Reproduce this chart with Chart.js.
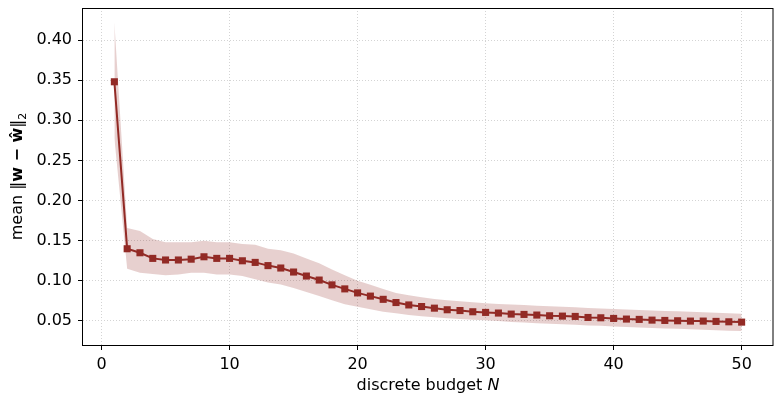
<!DOCTYPE html>
<html>
<head>
<meta charset="utf-8">
<script src="https://cdn.jsdelivr.net/npm/chart.js@4.4.0/dist/chart.umd.min.js"></script>
<style>
	html, body { margin: 0; padding: 0; background: #fff; }
	#wrap { width: 781px; height: 402px; position: relative; }
</style>
</head>
<body>
<div id="wrap"><canvas id="chartBudget"></canvas></div>
<script>
// discrete budget N = 1..50
const budget = [
	1, 2, 3, 4, 5, 6, 7, 8, 9, 10, 11, 12, 13, 14, 15, 16, 17, 18, 19, 20, 21, 22, 23, 24, 25,
	26, 27, 28, 29, 30, 31, 32, 33, 34, 35, 36, 37, 38, 39, 40, 41, 42, 43, 44, 45, 46, 47, 48, 49, 50,
];
const meanErr = [
	0.348, 0.140, 0.135, 0.128, 0.126, 0.126, 0.127, 0.130, 0.128, 0.128,
	0.125, 0.123, 0.119, 0.116, 0.111, 0.106, 0.101, 0.095, 0.090, 0.085,
	0.081, 0.077, 0.073, 0.070, 0.068, 0.066, 0.064, 0.063, 0.0615, 0.0607,
	0.0599, 0.0586, 0.0582, 0.0574, 0.0565, 0.0561, 0.0557, 0.0544, 0.054, 0.0532,
	0.0524, 0.052, 0.0511, 0.0507, 0.0503, 0.0499, 0.0499, 0.0495, 0.049, 0.0486,
];
const upperErr = [
	0.422, 0.166, 0.162, 0.152, 0.148, 0.148, 0.148, 0.150, 0.148, 0.148,
	0.146, 0.145, 0.140, 0.138, 0.134, 0.128, 0.122, 0.114, 0.107, 0.100,
	0.095, 0.090, 0.085, 0.082, 0.0795, 0.0774, 0.0758, 0.0745, 0.0733, 0.072,
	0.0712, 0.0704, 0.0698, 0.069, 0.0683, 0.0677, 0.067, 0.0662, 0.0655, 0.065,
	0.0643, 0.0637, 0.063, 0.0625, 0.062, 0.0614, 0.0608, 0.0603, 0.0597, 0.0591,
];
const lowerErr = [
	0.278, 0.115, 0.110, 0.1085, 0.107, 0.108, 0.110, 0.110, 0.108, 0.108,
	0.106, 0.102, 0.098, 0.0956, 0.091, 0.086, 0.081, 0.0757, 0.071, 0.0677,
	0.0645, 0.0616, 0.0596, 0.0575, 0.0559, 0.0546, 0.0534, 0.0525, 0.0517, 0.0509,
	0.050, 0.0488, 0.048, 0.0472, 0.0465, 0.046, 0.0453, 0.0445, 0.044, 0.0432,
	0.0425, 0.042, 0.0413, 0.0408, 0.0402, 0.0397, 0.039, 0.0385, 0.038, 0.0375,
];
const xTicks = [0, 10, 20, 30, 40, 50];
const yTicks = [0.05, 0.10, 0.15, 0.20, 0.25, 0.30, 0.35, 0.40];

const lineColor = "#922a25";
const bandColor = "rgba(146, 42, 37, 0.22)";
const gridColor = "#d4d4d4";
const fontFamily = "'DejaVu Sans', sans-serif";

const toPoints = (ys) => budget.map((x, i) => ({ x: x, y: ys[i] }));

// frame + axis labels with mixed fonts (bold w, hat, subscript, italic N)
const axisLabels = {
	id: "axisLabels",
	afterDraw(chart) {
		const { ctx, chartArea } = chart;
		const drawRuns = (runs, cx, cy) => {
			let total = 0;
			runs.forEach((r) => {
				ctx.font = r.font;
				r.w = ctx.measureText(r.text).width;
				total += r.w;
			});
			let x = cx - total / 2;
			runs.forEach((r) => {
				ctx.font = r.font;
				ctx.fillText(r.text, x, cy + (r.dy || 0));
				x += r.w;
			});
		};
		ctx.save();
		ctx.fillStyle = "#000";
		ctx.textBaseline = "middle";
		ctx.textAlign = "left";

		ctx.strokeStyle = "#000";
		ctx.lineWidth = 1;
		ctx.strokeRect(
			chartArea.left - 0.5,
			chartArea.top + 0.5,
			chartArea.right - chartArea.left + 0.5,
			chartArea.bottom - chartArea.top
		);

		drawRuns(
			[
				{ text: "discrete budget ", font: `16px ${fontFamily}` },
				{ text: "N", font: `italic 16px ${fontFamily}` },
			],
			(chartArea.left + chartArea.right) / 2,
			386
		);

		ctx.translate(18, (chartArea.top + chartArea.bottom) / 2);
		ctx.rotate(-Math.PI / 2);
		drawRuns(
			[
				{ text: "mean ‖", font: `16px ${fontFamily}` },
				{ text: "w − ŵ", font: `bold 16px ${fontFamily}` },
				{ text: "‖", font: `16px ${fontFamily}` },
				{ text: "2", font: `11px ${fontFamily}`, dy: 5 },
			],
			0,
			0
		);
		ctx.restore();
	},
};

const ctx = document.getElementById("chartBudget");
const chart = new Chart(ctx, {
	type: "line",
	data: {
		datasets: [
			{
				label: "upper",
				data: toPoints(upperErr),
				borderWidth: 0,
				pointRadius: 0,
				backgroundColor: bandColor,
				fill: "+1",
				order: 2,
			},
			{
				label: "lower",
				data: toPoints(lowerErr),
				borderWidth: 0,
				pointRadius: 0,
				backgroundColor: bandColor,
				fill: false,
				order: 2,
			},
			{
				label: "mean",
				data: toPoints(meanErr),
				borderColor: lineColor,
				backgroundColor: lineColor,
				borderWidth: 2,
				pointStyle: "rect",
				pointRadius: 5,
				pointBorderWidth: 0,
				fill: false,
				order: 1,
			},
		],
	},
	options: {
		responsive: true,
		maintainAspectRatio: false,
		animation: false,
		devicePixelRatio: 1,
		layout: { padding: { top: 8, right: 8, left: 0, bottom: 0 } },
		plugins: {
			legend: { display: false },
			tooltip: { enabled: false },
		},
		scales: {
			x: {
				type: "linear",
				min: -1.45,
				max: 52.45,
				afterBuildTicks: (scale) => {
					scale.ticks = xTicks.map((v) => ({ value: v }));
				},
				afterFit: (scale) => {
					scale.height = 57;
					scale.paddingLeft = 0;
					scale.paddingRight = 0;
				},
				ticks: {
					color: "#000",
					font: { family: fontFamily, size: 16 },
					padding: 5,
					maxRotation: 0,
					callback: (v) => String(v),
				},
				grid: {
					color: gridColor,
					lineWidth: 1,
					tickLength: 5,
					tickColor: "#000",
					tickWidth: 1,
				},
				border: { display: false, dash: [1, 2] },
			},
			y: {
				type: "linear",
				min: 0.0201,
				max: 0.4399,
				afterBuildTicks: (scale) => {
					scale.ticks = yTicks.map((v) => ({ value: v }));
				},
				afterFit: (scale) => {
					scale.width = 83;
					scale.paddingTop = 0;
					scale.paddingBottom = 0;
				},
				ticks: {
					color: "#000",
					font: { family: fontFamily, size: 16 },
					padding: 6,
					callback: (v) => v.toFixed(2),
				},
				grid: {
					color: gridColor,
					lineWidth: 1,
					tickLength: 5,
					tickColor: "#000",
					tickWidth: 1,
				},
				border: { display: false, dash: [1, 2] },
			},
		},
	},
	plugins: [axisLabels],
});
</script>
</body>
</html>
